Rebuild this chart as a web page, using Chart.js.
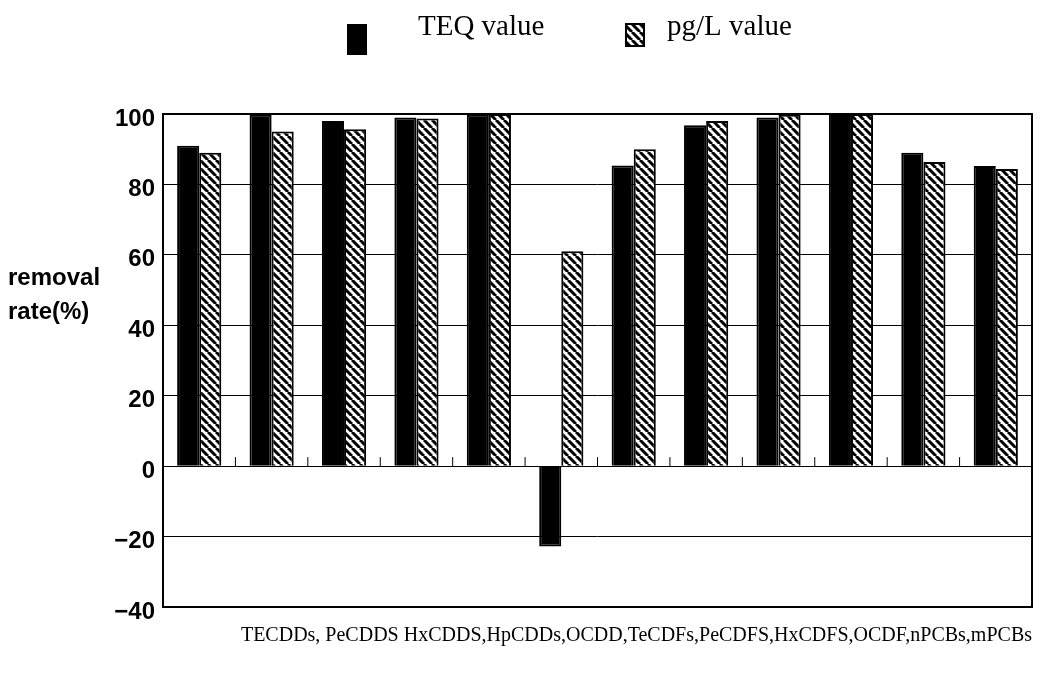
<!DOCTYPE html>
<html>
<head>
<meta charset="utf-8">
<script src="https://cdn.jsdelivr.net/npm/chart.js@4.4.1/dist/chart.umd.min.js"></script>
<style>
  html, body { margin: 0; padding: 0; background: #fff; }
  #chart { display: block; }
</style>
</head>
<body>
<canvas id="chart" width="1051" height="674"></canvas>
<script>
// removal rate per congener group
const categories = ['TECDDs', 'PeCDDS', 'HxCDDS', 'HpCDDs', 'OCDD', 'TeCDFs', 'PeCDFS', 'HxCDFS', 'OCDF', 'nPCBs', 'mPCBs', 'Total'];
const teqValues = [91, 99.8, 98, 99, 99.8, -22.8, 85.4, 96.8, 99, 100, 89, 85.2];
const pglValues = [89, 95, 95.7, 98.7, 100, 61, 90, 98, 99.8, 100, 86.4, 84.4];
const yTicks = [-40, -20, 0, 20, 40, 60, 80, 100];
const legendLabels = ['TEQ value', 'pg/L value'];
const yTitleLines = ['removal', 'rate(%)'];
const xTitle = 'TECDDs, PeCDDS HxCDDS,HpCDDs,OCDD,TeCDFs,PeCDFS,HxCDFS,OCDF,nPCBs,mPCBs';

function makeHatch() {
    const s = 8;
    const c = document.createElement('canvas');
    c.width = s; c.height = s;
    const g = c.getContext('2d');
    g.fillStyle = '#fff';
    g.fillRect(0, 0, s, s);
    g.strokeStyle = '#000';
    g.lineWidth = 3;
    g.beginPath();
    for (let k = -1; k <= 1; k++) {
        g.moveTo(k * s, 0);
        g.lineTo(k * s + s, s);
    }
    g.stroke();
    return g.createPattern(c, 'repeat');
}

const hatch = makeHatch();

// frame, zero-line ticks, legend and the horizontal y title
const decorPlugin = {
    id: 'decor',
    beforeDatasetsDraw(chart) {
        const { ctx, scales } = chart;
        const y0 = scales.y.getPixelForValue(0);
        ctx.save();
        ctx.strokeStyle = '#000';
        ctx.lineWidth = 1;
        ctx.beginPath();
        for (let i = 0; i < categories.length - 1; i++) {
            const xb = (scales.x.getPixelForValue(i) + scales.x.getPixelForValue(i + 1)) / 2;
            ctx.moveTo(xb, y0);
            ctx.lineTo(xb, y0 - 9);
        }
        ctx.stroke();
        ctx.restore();
    },
    afterDraw(chart) {
        const { ctx, chartArea } = chart;
        ctx.save();
        ctx.strokeStyle = '#000';
        ctx.lineWidth = 2;
        ctx.strokeRect(chartArea.left, chartArea.top, chartArea.right - chartArea.left, chartArea.bottom - chartArea.top);

        // legend
        ctx.fillStyle = '#000';
        ctx.fillRect(347, 24, 20, 31);
        ctx.fillStyle = hatch;
        ctx.fillRect(625, 23, 20, 24);
        ctx.lineWidth = 2;
        ctx.strokeRect(626, 24, 18, 22);
        ctx.fillStyle = '#000';
        ctx.font = '29px "Liberation Serif", "Times New Roman", serif';
        ctx.textBaseline = 'alphabetic';
        ctx.textAlign = 'left';
        ctx.fillText(legendLabels[0], 418, 35);
        ctx.fillText(legendLabels[1], 667, 35);

        // y title
        ctx.font = 'bold 24px "Liberation Sans", Arial, sans-serif';
        ctx.fillText(yTitleLines[0], 8, 285);
        ctx.fillText(yTitleLines[1], 8, 319);
        ctx.restore();
    }
};

new Chart(document.getElementById('chart'), {
    type: 'bar',
    data: {
        labels: categories,
        datasets: [{
            label: legendLabels[0],
            data: teqValues,
            backgroundColor: '#000',
            borderColor: '#000',
            borderWidth: 2,
            categoryPercentage: 0.61,
            barPercentage: 1,
        }, {
            label: legendLabels[1],
            data: pglValues,
            backgroundColor: hatch,
            borderColor: '#000',
            borderWidth: 2,
            categoryPercentage: 0.61,
            barPercentage: 1,
        }],
    },
    options: {
        responsive: false,
        animation: false,
        layout: { padding: { top: 114, right: 19, left: 0, bottom: 0 } },
        plugins: { legend: { display: false }, tooltip: { enabled: false } },
        scales: {
            x: {
                grid: { display: false, drawTicks: false },
                border: { display: false },
                ticks: { display: false },
                title: {
                    display: true, text: xTitle, align: 'end', color: '#000',
                    font: { family: '"Liberation Serif", "Times New Roman", serif', size: 20 },
                    padding: { top: 0, bottom: 26 },
                },
                afterFit: s => { s.height = 67; },
            },
            y: {
                min: -40, max: 100,
                afterBuildTicks: s => { s.ticks = yTicks.map(v => ({ value: v })); },
                ticks: {
                    color: '#000', padding: 8, labelOffset: 5,
                    font: { family: '"Liberation Sans", Arial, sans-serif', size: 24, weight: 'bold' },
                    callback: v => String(v).replace('-', '\u2212'),
                },
                grid: { color: '#000', lineWidth: 1, drawTicks: false },
                border: { display: false },
                afterFit: s => { s.width = 163; },
            },
        },
    },
    plugins: [decorPlugin],
});
</script>
</body>
</html>
